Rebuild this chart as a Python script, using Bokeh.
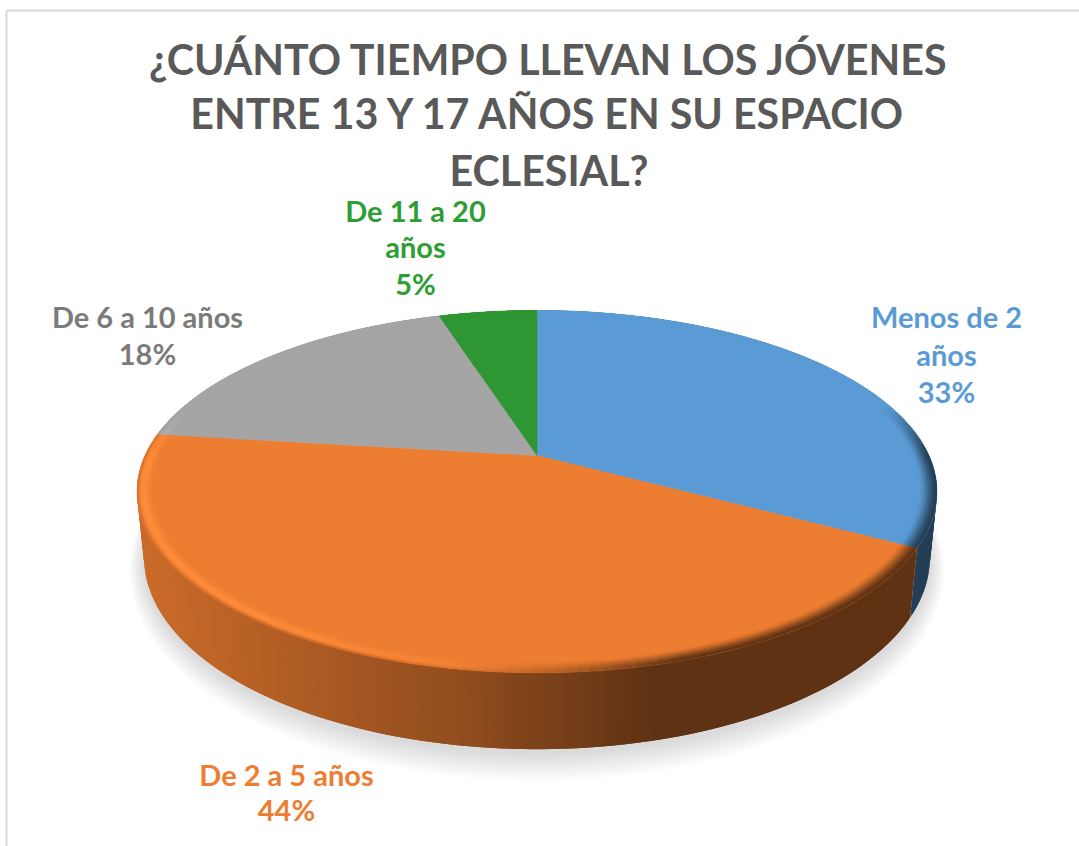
import numpy as np
from bokeh.plotting import figure
from bokeh.models import Range1d
from bokeh.core.properties import value
from bokeh.embed import file_html
from bokeh.resources import INLINE

# ---- data ----
categories = ["Menos de 2 años", "De 2 a 5 años", "De 6 a 10 años", "De 11 a 20 años"]
shares = [33.0, 44.0, 18.2, 4.8]
percent_labels = ["33%", "44%", "18%", "5%"]
colors = ["#5B9BD5", "#ED7D31", "#A5A5A5", "#2E9633"]
label_colors = ["#5B9BD5", "#ED7D31", "#7B7B7B", "#2E9E34"]
title_lines = ["¿CUÁNTO TIEMPO LLEVAN LOS JÓVENES",
               "ENTRE 13 Y 17 AÑOS EN SU ESPACIO",
               "ECLESIAL?"]
label_lines = [["Menos de 2", "años", "33%"],
               ["De 2 a 5 años", "44%"],
               ["De 6 a 10 años", "18%"],
               ["De 11 a 20", "años", "5%"]]

# ---- layout ----
WIDTH, HEIGHT = 1079, 846
CX = 536.5
TOP = dict(y0=455, R=392, S=174)
BOT = dict(y0=519, R=385, S=184)
TILT = 0.199
RIM = 0.955
label_centers = [946, 286, 147, 415]
label_rows = [[316, 354, 391], [774, 809], [316, 353], [210, 246, 283]]
title_x = 548.5
title_rows = [58, 112, 169]


def proj(theta, f, disc):
    u, v = f * np.sin(theta), f * np.cos(theta)
    w = 1 + TILT * v
    return CX + disc["R"] * u / w, disc["y0"] - disc["S"] * v / w


def rgb(h):
    return np.array([int(h[i:i + 2], 16) for i in (1, 3, 5)], float)


def hexc(c):
    c = np.clip(np.round(c), 0, 255).astype(int)
    return "#%02x%02x%02x" % tuple(c)


def side_factor(x):
    return np.interp(x, [135, 300, 480, 600, 650, 940], [0.86, 0.74, 0.60, 0.45, 0.40, 0.40])


p = figure(width=WIDTH, height=HEIGHT, x_range=Range1d(0, WIDTH), y_range=Range1d(HEIGHT, 0),
           output_backend="svg", toolbar_location=None, min_border=0)
p.axis.visible = False
p.grid.visible = False
p.outline_line_color = None
p.background_fill_color = "white"
p.border_fill_color = "white"

# chart frame
p.line([6, 6], [846, 10], line_color="#D9D9D9", line_width=2)
p.line([6, 1079], [10, 10], line_color="#D9D9D9", line_width=2)

edges = np.cumsum([0] + shares) / sum(shares) * 2 * np.pi

# soft shadow below the pie
th = np.linspace(0, 2 * np.pi, 241)
for grow in np.arange(18, 0, -1.5):
    disc = dict(y0=BOT["y0"] + 3, R=BOT["R"] + grow * 0.8, S=BOT["S"] + grow)
    sx, sy = proj(th, 1, disc)
    p.patch(sx, sy + grow * 0.35, fill_color="black", fill_alpha=0.011, line_color=None)

# side wall, slice by slice, in small shaded quads that overlap a little
qx, qy, qc, order = [], [], [], []
for i, col in enumerate(colors):
    base = rgb(col)
    n = max(2, int((edges[i + 1] - edges[i]) / (2 * np.pi) * 300))
    ts = np.linspace(edges[i], edges[i + 1], n + 1)
    step = ts[1] - ts[0]
    for a, b in zip(ts[:-1], ts[1:]):
        a2, b2 = max(a - step * 0.5, edges[i]), min(b + step * 0.5, edges[i + 1])
        x1, y1 = proj(np.array([a2, b2]), 1, TOP)
        x2, y2 = proj(np.array([b2, a2]), 1, BOT)
        xs = np.r_[x1, x2]
        ys = np.r_[y1, y2]
        qx.append(xs.tolist())
        qy.append(ys.tolist())
        qc.append(hexc(base * side_factor(xs.mean())))
        order.append(-np.cos((a + b) / 2))
idx = np.argsort(order)
p.patches([qx[k] for k in idx], [qy[k] for k in idx], fill_color=[qc[k] for k in idx], line_color=None)

# top face: flat wedges
for i, col in enumerate(colors):
    ts = np.linspace(edges[i], edges[i + 1], 160)
    ex, ey = proj(ts, 1, TOP)
    ax, ay = proj(np.array([0.0]), 0, TOP)
    p.patch(np.r_[ax, ex], np.r_[ay, ey], fill_color=col, line_color=col, line_width=0.5)

# bevelled rim of the top face (quads overlap so that no seam shows)
fs = np.linspace(RIM, 1, 9)
df = fs[1] - fs[0]
rx, ry, rc = [], [], []
for i, col in enumerate(colors):
    base = rgb(col)
    bright = np.minimum(base * 1.08 + 4, 255)
    n = max(2, int((edges[i + 1] - edges[i]) / (2 * np.pi) * 260))
    ts = np.linspace(edges[i], edges[i + 1], n + 1)
    step = ts[1] - ts[0]
    for a, b in zip(ts[:-1], ts[1:]):
        m = (a + b) / 2
        a2, b2 = max(a - step * 0.5, edges[i]), min(b + step * 0.5, edges[i + 1])
        g = np.clip((0.30 - np.cos(m)) / 0.30, 0, 1)
        h = np.clip((-np.sin(m)) / 0.6, 0, 1) * g
        d = np.clip((np.sin(m) + 0.20) / 0.5, 0, 1) * g
        for f0, f1 in zip(fs[:-1], fs[1:]):
            s = ((f0 + f1) / 2 - RIM) / (1 - RIM)
            x1, y1 = proj(np.array([a2, b2]), f0, TOP)
            x2, y2 = proj(np.array([b2, a2]), min(f1 + df * 0.4, 1), TOP)
            xs = np.r_[x1, x2]
            dark = base * side_factor(xs.mean())
            c = base + (dark - base) * d * (s * s * (3 - 2 * s))
            c = c + (bright - c) * h * np.exp(-((s - 0.6) / 0.28) ** 2)
            c = c + (dark - c) * h * np.clip((s - 0.85) / 0.15, 0, 1)
            rx.append(xs.tolist())
            ry.append(np.r_[y1, y2].tolist())
            rc.append(hexc(c))
p.patches(rx, ry, fill_color=rc, line_color=None)

# title
p.text(x=[title_x] * 3, y=title_rows, text=title_lines, text_font=value("Lato"), text_font_style="bold",
       text_font_size="41.2px", text_color="#595959", text_align="center", text_baseline="middle")

# data labels
for lines, cx, rows, col in zip(label_lines, label_centers, label_rows, label_colors):
    p.text(x=[cx] * len(lines), y=rows, text=lines, text_font=value("Lato"), text_font_style="bold",
           text_font_size="29px", text_color=col, text_align="center", text_baseline="middle")

open("out.html", "w").write(file_html(p, INLINE))
